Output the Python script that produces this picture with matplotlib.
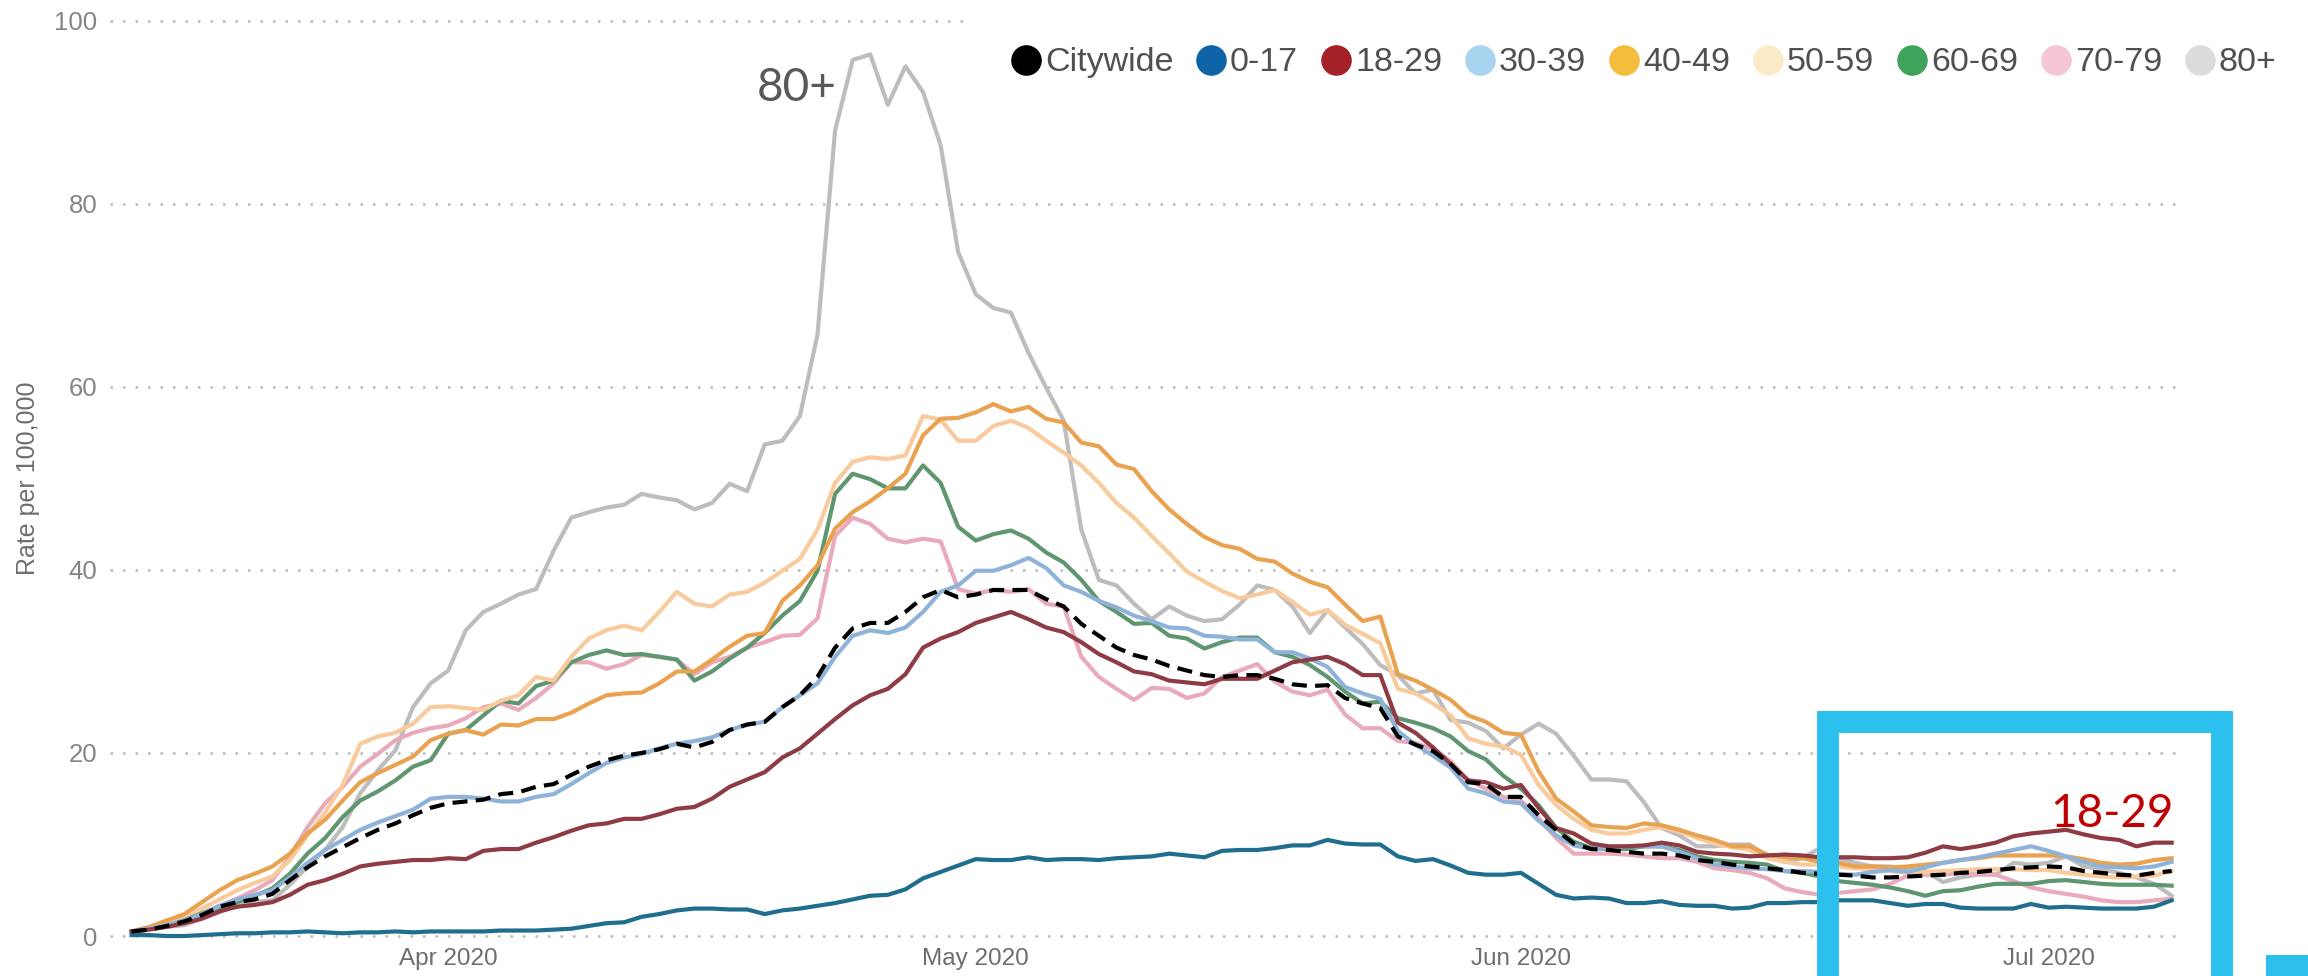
import matplotlib
matplotlib.use("Agg")
import matplotlib.pyplot as plt
import matplotlib.dates as mdates
from matplotlib.lines import Line2D
from matplotlib.patches import Rectangle
import pandas as pd

# daily rolling rates per 100,000, 14 Mar - 8 Jul 2020
dates = pd.date_range("2020-03-14", "2020-07-08", freq="D")

citywide = [0.5, 0.7, 1.1, 1.6, 2.3, 3.2, 3.7, 4.0, 4.6, 6.1,
            7.5, 8.7, 9.7, 10.7, 11.6, 12.3, 13.2, 14.0, 14.5, 14.7,
            14.9, 15.5, 15.7, 16.3, 16.6, 17.6, 18.5, 19.2, 19.7, 20.0,
            20.4, 21.0, 20.6, 21.2, 22.5, 23.1, 23.4, 25.0, 26.3, 28.3,
            31.5, 33.6, 34.2, 34.2, 35.4, 37.0, 37.8, 37.0, 37.3, 37.8,
            37.8, 37.8, 36.8, 36.0, 34.1, 32.8, 31.5, 30.7, 30.2, 29.5,
            29.0, 28.5, 28.3, 28.5, 28.5, 28.1, 27.5, 27.3, 27.4, 26.0,
            25.4, 24.9, 21.8, 20.9, 20.2, 18.8, 16.8, 16.6, 15.2, 15.2,
            13.2, 11.6, 10.1, 9.5, 9.4, 9.2, 9.0, 9.0, 8.8, 8.3,
            8.1, 7.8, 7.6, 7.4, 7.2, 6.9, 6.8, 6.7, 6.6, 6.4,
            6.4, 6.5, 6.6, 6.7, 6.9, 7.0, 7.2, 7.4, 7.5, 7.6,
            7.5, 7.1, 6.9, 6.7, 6.6, 6.9, 7.1]

age_0_17 = [0.1, 0.1, 0.0, 0.0, 0.1, 0.2, 0.3, 0.3, 0.4, 0.4,
            0.5, 0.4, 0.3, 0.4, 0.4, 0.5, 0.4, 0.5, 0.5, 0.5,
            0.5, 0.6, 0.6, 0.6, 0.7, 0.8, 1.1, 1.4, 1.5, 2.1,
            2.4, 2.8, 3.0, 3.0, 2.9, 2.9, 2.4, 2.8, 3.0, 3.3,
            3.6, 4.0, 4.4, 4.5, 5.1, 6.3, 7.0, 7.7, 8.4, 8.3,
            8.3, 8.6, 8.3, 8.4, 8.4, 8.3, 8.5, 8.6, 8.7, 9.0,
            8.8, 8.6, 9.3, 9.4, 9.4, 9.6, 9.9, 9.9, 10.5, 10.1,
            10.0, 10.0, 8.7, 8.2, 8.4, 7.7, 6.9, 6.7, 6.7, 6.9,
            5.7, 4.5, 4.1, 4.2, 4.1, 3.6, 3.6, 3.8, 3.4, 3.3,
            3.3, 3.0, 3.1, 3.6, 3.6, 3.7, 3.7, 3.9, 3.9, 3.9,
            3.6, 3.3, 3.5, 3.5, 3.1, 3.0, 3.0, 3.0, 3.5, 3.1,
            3.2, 3.1, 3.0, 3.0, 3.0, 3.2, 3.9]

age_18_29 = [0.5, 0.7, 1.0, 1.4, 1.9, 2.7, 3.2, 3.4, 3.7, 4.5,
             5.6, 6.1, 6.8, 7.6, 7.9, 8.1, 8.3, 8.3, 8.5, 8.4,
             9.3, 9.5, 9.5, 10.2, 10.8, 11.5, 12.1, 12.3, 12.8, 12.8,
             13.3, 13.9, 14.1, 15.0, 16.3, 17.1, 17.9, 19.5, 20.5, 22.1,
             23.7, 25.2, 26.3, 27.0, 28.6, 31.5, 32.5, 33.2, 34.2, 34.8,
             35.4, 34.6, 33.7, 33.2, 32.1, 30.8, 29.9, 28.9, 28.6, 27.9,
             27.7, 27.5, 28.1, 28.1, 28.1, 29.0, 29.9, 30.2, 30.5, 29.7,
             28.5, 28.5, 23.3, 22.2, 20.6, 18.8, 17.0, 16.8, 16.1, 16.5,
             14.0, 11.8, 11.2, 10.1, 9.8, 9.8, 9.9, 10.2, 9.9, 9.2,
             9.0, 8.9, 8.7, 8.8, 8.9, 8.8, 8.6, 8.6, 8.6, 8.5,
             8.5, 8.6, 9.1, 9.8, 9.5, 9.8, 10.2, 10.9, 11.2, 11.4,
             11.6, 11.1, 10.7, 10.5, 9.8, 10.2, 10.2]

age_30_39 = [0.5, 0.8, 1.2, 1.7, 2.4, 3.3, 4.0, 4.5, 5.0, 6.4,
             8.0, 9.4, 10.5, 11.6, 12.4, 13.1, 13.8, 15.0, 15.2, 15.2,
             15.0, 14.7, 14.7, 15.2, 15.5, 16.6, 17.8, 18.9, 19.5, 19.9,
             20.5, 21.0, 21.3, 21.7, 22.5, 23.1, 23.4, 25.0, 26.3, 27.6,
             30.5, 32.8, 33.4, 33.1, 33.7, 35.4, 37.6, 38.3, 39.9, 39.9,
             40.5, 41.3, 40.2, 38.3, 37.6, 36.6, 35.9, 35.0, 34.4, 33.7,
             33.6, 32.8, 32.7, 32.4, 32.4, 31.0, 31.0, 30.3, 29.4, 27.2,
             26.5, 25.9, 22.4, 20.9, 19.7, 18.4, 16.1, 15.6, 14.7, 14.5,
             12.6, 11.0, 9.9, 9.5, 9.6, 9.8, 9.8, 9.8, 9.2, 8.5,
             7.8, 7.6, 7.4, 7.3, 7.1, 7.1, 7.0, 6.8, 6.7, 7.0,
             7.2, 7.0, 7.5, 8.0, 8.3, 8.6, 9.0, 9.4, 9.8, 9.3,
             8.7, 8.1, 7.6, 7.5, 7.4, 7.6, 8.1]

age_40_49 = [0.5, 1.0, 1.7, 2.4, 3.7, 5.0, 6.1, 6.8, 7.6, 9.0,
             11.2, 12.7, 14.8, 16.8, 17.8, 18.7, 19.6, 21.4, 22.1, 22.5,
             22.0, 23.1, 23.0, 23.7, 23.7, 24.4, 25.4, 26.3, 26.5, 26.6,
             27.6, 28.9, 28.9, 30.2, 31.6, 32.8, 33.1, 36.6, 38.3, 40.5,
             44.5, 46.3, 47.5, 48.9, 50.5, 54.7, 56.5, 56.6, 57.2, 58.1,
             57.3, 57.8, 56.5, 56.1, 53.9, 53.5, 51.5, 51.0, 48.6, 46.6,
             45.0, 43.6, 42.7, 42.3, 41.2, 40.9, 39.6, 38.7, 38.1, 36.2,
             34.4, 34.9, 28.6, 27.9, 26.9, 25.8, 24.1, 23.4, 22.2, 22.0,
             18.0, 15.0, 13.6, 12.1, 11.9, 11.8, 12.3, 12.1, 11.6, 11.0,
             10.5, 9.8, 9.8, 8.9, 8.6, 8.5, 8.1, 8.0, 7.6, 7.6,
             7.5, 7.6, 7.8, 8.0, 8.3, 8.5, 8.8, 8.8, 8.8, 8.8,
             8.7, 8.4, 8.0, 7.8, 7.9, 8.3, 8.5]

age_50_59 = [0.5, 0.9, 1.6, 2.2, 3.0, 4.0, 5.0, 5.8, 6.5, 8.3,
             11.0, 13.5, 16.5, 21.0, 21.8, 22.2, 23.2, 25.0, 25.1, 24.9,
             24.7, 25.7, 26.3, 28.3, 27.9, 30.5, 32.5, 33.4, 33.9, 33.4,
             35.4, 37.6, 36.3, 36.0, 37.3, 37.6, 38.6, 39.9, 41.2, 44.4,
             49.5, 51.8, 52.3, 52.1, 52.5, 56.8, 56.4, 54.1, 54.1, 55.7,
             56.3, 55.5, 54.1, 52.8, 51.4, 49.5, 47.3, 45.7, 43.7, 41.8,
             39.8, 38.7, 37.7, 36.9, 37.3, 37.8, 36.5, 35.1, 35.6, 34.0,
             33.0, 32.0, 27.0, 26.5, 25.4, 24.1, 21.6, 21.0, 20.7, 19.8,
             16.5, 14.3, 12.8, 11.6, 11.2, 11.2, 11.6, 11.9, 11.4, 10.7,
             10.1, 9.7, 9.4, 8.5, 8.1, 7.8, 7.8, 7.6, 7.4, 7.3,
             7.1, 6.9, 7.0, 7.1, 7.2, 7.3, 7.3, 7.3, 7.2, 7.2,
             6.9, 6.7, 6.5, 6.4, 6.5, 6.6, 7.1]

age_60_69 = [0.5, 0.9, 1.4, 1.9, 2.5, 3.1, 3.7, 4.4, 5.2, 6.8,
             9.0, 10.7, 13.0, 14.8, 15.8, 17.0, 18.5, 19.2, 22.1, 22.5,
             24.1, 25.7, 25.4, 27.3, 27.9, 29.9, 30.7, 31.2, 30.7, 30.8,
             30.5, 30.2, 27.9, 28.9, 30.3, 31.5, 33.1, 35.0, 36.6, 39.9,
             48.3, 50.5, 49.9, 48.9, 48.9, 51.4, 49.5, 44.7, 43.2, 43.9,
             44.3, 43.4, 41.9, 40.8, 38.9, 36.6, 35.4, 34.1, 34.2, 32.8,
             32.5, 31.4, 32.1, 32.6, 32.6, 31.0, 30.5, 29.6, 28.3, 26.7,
             25.4, 25.6, 23.8, 23.3, 22.7, 21.8, 20.2, 19.3, 17.5, 16.1,
             14.3, 11.8, 10.3, 9.6, 9.5, 9.5, 9.8, 9.8, 9.4, 8.7,
             8.3, 8.1, 8.0, 7.8, 7.1, 6.9, 6.5, 6.0, 5.8, 5.6,
             5.3, 4.9, 4.4, 4.9, 5.0, 5.4, 5.7, 5.7, 5.7, 6.0,
             6.1, 5.9, 5.7, 5.6, 5.6, 5.6, 5.5]

age_70_79 = [0.5, 0.8, 1.2, 1.8, 2.5, 3.3, 4.1, 5.0, 6.1, 8.7,
             11.9, 14.5, 16.3, 18.5, 19.9, 21.4, 22.2, 22.7, 23.0, 23.8,
             25.0, 25.4, 24.7, 26.0, 27.6, 29.9, 29.9, 29.2, 29.7, 30.7,
             30.5, 30.2, 28.6, 29.9, 30.5, 31.5, 32.1, 32.8, 32.9, 34.7,
             43.7, 45.7, 45.0, 43.4, 43.0, 43.4, 43.1, 37.9, 37.4, 37.8,
             37.6, 37.9, 36.3, 36.0, 30.5, 28.3, 27.0, 25.8, 27.1, 27.0,
             26.0, 26.5, 28.3, 29.0, 29.7, 27.8, 26.7, 26.3, 26.9, 24.2,
             22.7, 22.7, 21.3, 21.1, 20.4, 19.1, 17.0, 16.1, 15.2, 14.8,
             12.9, 10.7, 9.0, 9.0, 9.0, 8.9, 8.7, 8.5, 8.5, 8.1,
             7.4, 7.2, 6.9, 6.3, 5.2, 4.8, 4.5, 4.7, 4.9, 5.1,
             5.7, 6.6, 6.7, 6.7, 6.9, 6.8, 6.7, 6.0, 5.3, 4.9,
             4.6, 4.3, 3.9, 3.7, 3.7, 3.9, 4.1]

age_80_plus = [0.5, 0.8, 1.0, 1.2, 1.9, 2.6, 3.4, 3.7, 3.9, 5.6,
               7.6, 9.4, 11.9, 15.6, 18.1, 20.3, 25.0, 27.6, 29.0, 33.4,
               35.4, 36.3, 37.3, 37.9, 42.1, 45.7, 46.3, 46.8, 47.1, 48.3,
               47.9, 47.6, 46.6, 47.3, 49.4, 48.6, 53.7, 54.1, 56.8, 65.7,
               88.0, 95.7, 96.3, 90.8, 95.0, 92.2, 86.4, 74.7, 70.1, 68.6,
               68.1, 63.7, 59.9, 56.3, 44.4, 38.9, 38.3, 36.3, 34.6, 36.0,
               35.0, 34.4, 34.6, 36.2, 38.3, 37.8, 36.0, 33.1, 35.6, 33.7,
               31.9, 29.6, 28.5, 26.5, 26.9, 23.6, 23.3, 22.4, 20.5, 22.0,
               23.2, 22.1, 19.7, 17.1, 17.1, 16.9, 14.6, 11.8, 11.0, 9.8,
               9.8, 10.0, 10.0, 8.7, 8.1, 8.5, 9.6, 8.5, 8.0, 7.6,
               7.6, 7.3, 7.1, 5.9, 6.4, 6.7, 6.7, 8.0, 7.8, 8.0,
               8.7, 7.6, 7.3, 6.9, 6.4, 5.7, 4.4]

labels = ["Citywide", "0-17", "18-29", "30-39", "40-49", "50-59", "60-69", "70-79", "80+"]
line_colors = ["#000000", "#1F6E8E", "#8E3B46", "#8FB3D8", "#E9A24F",
               "#F8CA9C", "#5F9670", "#E9AABB", "#BDBDBD"]
legend_colors = ["#000000", "#0F64A8", "#A32127", "#A9D4F0", "#F4BE3C",
                 "#FCEBC9", "#40A35B", "#F5C7D6", "#DCDCDC"]
values = [citywide, age_0_17, age_18_29, age_30_39, age_40_49,
          age_50_59, age_60_69, age_70_79, age_80_plus]

plt.rcParams["font.family"] = ["Liberation Sans", "DejaVu Sans"]

fig = plt.figure(figsize=(23.08, 9.76), dpi=100)
ax = fig.add_axes([0.04766, 0.03627, 0.89814, 0.94734])

# draw age groups back to front, citywide dashed on top
for k in [8, 7, 6, 5, 4, 3, 2, 1]:
    ax.plot(dates, values[k], color=line_colors[k], lw=3.0, zorder=2)
ax.plot(dates, citywide, color="black", lw=3.0, dashes=(3.6, 2.0), zorder=3)

ax.set_ylim(-0.5, 100.5)
ax.set_xlim(pd.Timestamp("2020-03-14") - pd.Timedelta(days=1.23),
            pd.Timestamp("2020-07-08") + pd.Timedelta(days=0.64))
ax.set_yticks([0, 20, 40, 60, 80, 100])
ax.yaxis.grid(True, color="#BBBBBB", lw=1.8, linestyle=(0, (1, 4)), zorder=0)
ax.set_axisbelow(True)
ax.xaxis.set_major_locator(mdates.MonthLocator())
ax.xaxis.set_major_formatter(mdates.DateFormatter("%b %Y"))
ax.tick_params(axis="x", length=0, pad=5, labelsize=17.5, labelcolor="#6E6E6E")
ax.tick_params(axis="y", length=0, pad=9, labelsize=18.5, labelcolor="#858585")
for s in ax.spines.values():
    s.set_visible(False)
ax.set_ylabel("Rate per 100,000", fontsize=18, color="#6E6E6E", labelpad=10)

# white band behind the legend hides the top gridline there
ax.add_patch(Rectangle((0.418, 0.90), 0.6, 0.12, transform=fig.transFigure,
                       facecolor="white", edgecolor="none", zorder=4, clip_on=False))

handles = [Line2D([], [], ls="none", marker="o", markersize=21,
                  markerfacecolor=c, markeredgecolor=c) for c in legend_colors]
leg = ax.legend(handles, labels, ncol=9, loc="center left",
                bbox_to_anchor=(0.4372, 0.9355), bbox_transform=fig.transFigure,
                frameon=False, fontsize=24.5, labelcolor="#505050",
                handlelength=1.0, handletextpad=0.05, columnspacing=0.62,
                borderpad=0, borderaxespad=0)
leg.set_zorder(5)

ax.text(pd.Timestamp("2020-04-23 02:00"), 91.2, "80+", ha="right", va="baseline",
        fontsize=33, color="#595959", family=["Lato", "DejaVu Sans"])
ax.text(pd.Timestamp("2020-07-08 02:00"), 11.9, "18-29", ha="right", va="baseline",
        fontsize=33, color="#C00000", family=["Lato", "DejaVu Sans"], zorder=6)

# highlight box around the recent 18-29 rise
fig.patches.append(Rectangle((0.7920, -0.05), 0.1707, 0.3102, transform=fig.transFigure,
                             fill=False, edgecolor="#2CC0EF", lw=15.8, zorder=10))
fig.patches.append(Rectangle((0.9818, 0.0), 0.03, 0.0215, transform=fig.transFigure,
                             facecolor="#2CC0EF", edgecolor="none", zorder=10))

fig.savefig("out.png", dpi=100)
